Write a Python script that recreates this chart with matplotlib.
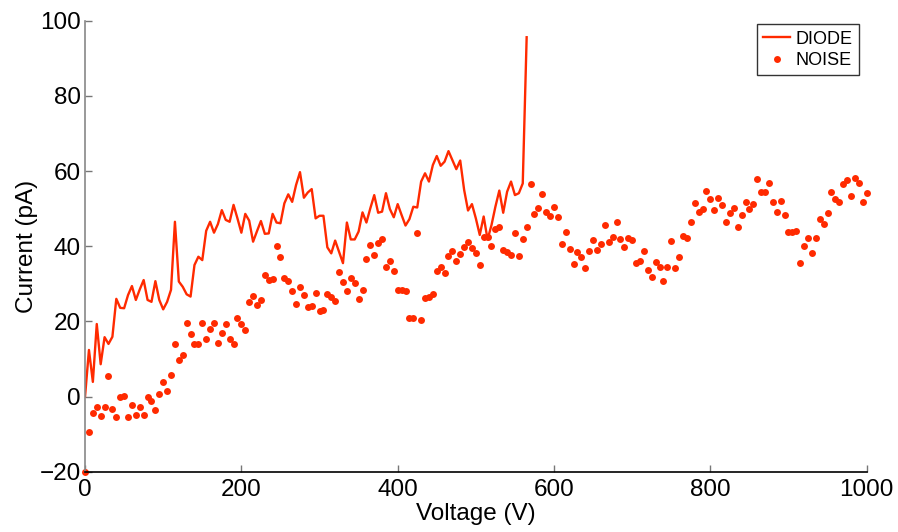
import matplotlib
matplotlib.use("Agg")
import matplotlib.pyplot as plt

plt.rcParams['font.family'] = ['Liberation Sans', 'DejaVu Sans']

diode_voltage = list(range(0, 566, 5))
diode_current = [
    0.0, 12.4, 3.9, 19.3, 8.6, 15.8, 14.0, 15.9, 26.0, 23.6,
    23.5, 27.0, 29.4, 25.7, 28.5, 31.0, 25.7, 25.2, 30.7, 25.7,
    23.2, 25.2, 28.4, 46.5, 30.6, 29.2, 27.2, 26.6, 35.0, 37.2,
    36.3, 44.1, 46.5, 43.6, 45.9, 49.6, 47.0, 46.5, 51.0, 47.4,
    43.6, 48.6, 46.8, 41.2, 44.0, 46.7, 43.3, 43.4, 48.6, 46.3,
    46.1, 51.4, 53.8, 51.8, 56.3, 59.7, 52.9, 54.3, 55.2, 47.4,
    48.1, 48.1, 39.7, 38.1, 41.5, 38.5, 35.5, 46.3, 41.8, 41.8,
    43.9, 49.0, 46.3, 50.1, 53.6, 48.9, 49.2, 54.1, 49.9, 47.7,
    51.2, 48.3, 45.5, 47.2, 50.5, 50.3, 57.2, 59.4, 57.2, 61.6,
    64.0, 61.4, 62.5, 65.3, 62.9, 60.5, 62.8, 55.0, 49.5, 51.2,
    47.4, 43.0, 47.9, 41.8, 45.6, 50.5, 54.8, 48.9, 54.5, 57.2,
    53.6, 54.1, 56.7, 95.6,
]

noise_voltage = list(range(0, 1001, 5))
noise_current = [
    -20.0, -9.5, -4.5, -2.9, -5.2, -2.9, 5.4, -3.3, -5.4, 0.0,
    0.1, -5.4, -2.3, -4.9, -2.9, -5.0, 0.0, -1.2, -3.5, 0.7,
    3.9, 1.6, 5.7, 14.0, 9.6, 11.1, 19.6, 16.6, 13.9, 14.1,
    19.6, 15.3, 18.1, 19.5, 14.2, 17.0, 19.3, 15.3, 14.0, 21.0,
    19.2, 17.6, 25.2, 26.8, 24.3, 25.7, 32.3, 31.0, 31.2, 40.1,
    37.1, 31.5, 30.7, 28.1, 24.6, 29.1, 27.0, 23.7, 24.1, 27.6,
    22.8, 22.9, 27.3, 26.6, 25.4, 33.1, 30.6, 28.1, 31.5, 30.3,
    26.0, 28.4, 36.7, 40.3, 37.6, 40.9, 42.0, 34.6, 36.1, 33.4,
    28.4, 28.3, 28.2, 20.8, 20.8, 43.4, 20.4, 26.3, 26.6, 27.3,
    33.4, 34.4, 32.9, 37.4, 38.7, 36.1, 37.9, 39.7, 41.0, 39.4,
    38.2, 35.0, 42.4, 42.4, 40.0, 44.5, 45.2, 39.1, 38.5, 37.7,
    43.4, 37.5, 41.9, 45.2, 56.6, 48.6, 50.1, 53.9, 49.1, 48.0,
    50.4, 47.7, 40.5, 43.8, 39.3, 35.2, 38.5, 37.0, 34.1, 38.8,
    41.6, 38.9, 40.6, 45.6, 41.2, 42.5, 46.4, 42.0, 39.9, 42.3,
    41.6, 35.5, 36.1, 38.7, 33.6, 31.7, 35.7, 34.5, 30.8, 34.6,
    41.3, 34.1, 37.2, 42.8, 42.3, 46.4, 51.5, 49.2, 49.8, 54.7,
    52.6, 49.6, 52.8, 50.9, 46.4, 48.8, 50.2, 45.0, 48.3, 51.8,
    50.0, 51.2, 57.8, 54.5, 54.5, 56.8, 51.8, 49.1, 52.0, 48.2,
    43.8, 43.7, 44.1, 35.5, 40.1, 42.3, 38.1, 42.3, 47.3, 45.8,
    48.8, 54.3, 52.6, 51.7, 56.5, 57.6, 53.4, 58.2, 56.7, 51.7,
    54.2,
]

x_ticks = [0, 200, 400, 600, 800, 1000]
y_ticks = [-20, 0, 20, 40, 60, 80, 100]

red = '#ff2a00'

fig = plt.figure(figsize=(8.98, 5.32), dpi=100)
ax = fig.add_axes([0.0947, 0.1133, 0.8704, 0.8478])

ax.plot(diode_voltage, diode_current, color=red, lw=1.7, label='DIODE')
ax.plot(noise_voltage, noise_current, linestyle='none', marker='o',
        markersize=5, color=red, markeredgewidth=0, label='NOISE', clip_on=False)

ax.set_xlim(0, 1000)
ax.set_ylim(-20, 100)
ax.set_xticks(x_ticks)
ax.set_yticks(y_ticks)
ax.tick_params(direction='in', length=5, width=1, color='#777777',
               labelsize=17.5)
ax.tick_params(axis='x', pad=5)
ax.tick_params(axis='y', pad=3)
for s in ['top', 'right']:
    ax.spines[s].set_visible(False)
ax.spines['left'].set_color('#888888')
ax.spines['bottom'].set_color('black')
ax.spines['left'].set_linewidth(1.2)
ax.spines['bottom'].set_linewidth(1.2)

ax.set_xlabel('Voltage (V)', fontsize=17.5, labelpad=2)
ax.set_ylabel('Current (pA)', fontsize=17.5, labelpad=1)

leg = ax.legend(loc='upper right', bbox_to_anchor=(0.995, 1.0), fontsize=13,
                frameon=True, fancybox=False, edgecolor='black',
                handlelength=1.5, borderpad=0.35, labelspacing=0.25,
                handletextpad=0.3, borderaxespad=0.2)
leg.get_frame().set_linewidth(1.0)

fig.savefig('out.png', dpi=100)
